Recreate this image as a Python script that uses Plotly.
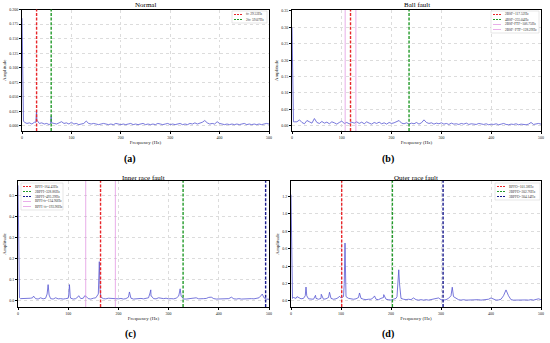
import plotly.graph_objects as go

W, H = 550, 343
FONT = "Liberation Serif"

# ---------------- data ----------------
freq_grid = list(range(0, 505, 5))

normal_base = [0.185, 0.006, 0.004, 0.005, 0.003, 0.006, 0.010, 0.004, 0.005, 0.003,
               0.004, 0.002, 0.005, 0.004, 0.003, 0.005, 0.007, 0.004, 0.005, 0.003,
               0.006, 0.003, 0.004, 0.002, 0.003, 0.004, 0.008, 0.004, 0.003, 0.004,
               0.003, 0.002, 0.003, 0.004, 0.003, 0.002, 0.003, 0.002, 0.004, 0.003,
               0.002, 0.003, 0.002, 0.003, 0.004, 0.002, 0.003, 0.002, 0.003, 0.004,
               0.002, 0.003, 0.002, 0.003, 0.002, 0.004, 0.003, 0.002, 0.003, 0.004,
               0.002, 0.003, 0.002, 0.003, 0.004, 0.002, 0.003, 0.002, 0.004, 0.003,
               0.005, 0.003, 0.004, 0.006, 0.009, 0.005, 0.003, 0.004, 0.003, 0.007,
               0.004, 0.003, 0.002, 0.003, 0.002, 0.003, 0.002, 0.003, 0.002, 0.003,
               0.004, 0.002, 0.003, 0.002, 0.003, 0.002, 0.003, 0.002, 0.003, 0.004,
               0.003]
normal_peak_f = [1, 2, 3, 28, 29.5, 30, 58, 59, 60]
normal_peak_a = [0.09, 0.02, 0.008, 0.006, 0.027, 0.010, 0.004, 0.016, 0.005]

ball_base = [0.300, 0.012, 0.012, 0.018, 0.010, 0.006, 0.016, 0.012, 0.008, 0.022,
             0.010, 0.007, 0.013, 0.008, 0.011, 0.006, 0.012, 0.009, 0.005, 0.010,
             0.014, 0.007, 0.010, 0.006, 0.011, 0.008, 0.012, 0.007, 0.011, 0.006,
             0.012, 0.008, 0.005, 0.010, 0.007, 0.011, 0.006, 0.009, 0.005, 0.010,
             0.007, 0.009, 0.013, 0.016, 0.008, 0.006, 0.009, 0.005, 0.008, 0.006,
             0.010, 0.005, 0.009, 0.018, 0.010, 0.007, 0.009, 0.005, 0.008, 0.006,
             0.009, 0.005, 0.007, 0.004, 0.008, 0.005, 0.006, 0.004, 0.007, 0.005,
             0.008, 0.004, 0.006, 0.005, 0.004, 0.007, 0.005, 0.004, 0.006, 0.003,
             0.005, 0.004, 0.006, 0.003, 0.005, 0.007, 0.004, 0.003, 0.005, 0.004,
             0.006, 0.003, 0.005, 0.004, 0.003, 0.005, 0.010, 0.004, 0.005, 0.007,
             0.005]
ball_peak_f = [1, 2, 3]
ball_peak_a = [0.12, 0.03, 0.012]

inner_base = [0.550, 0.008, 0.008, 0.007, 0.008, 0.010, 0.018, 0.008, 0.006, 0.012,
              0.007, 0.010, 0.010, 0.008, 0.006, 0.012, 0.007, 0.008, 0.006, 0.008,
              0.010, 0.010, 0.006, 0.008, 0.018, 0.008, 0.010, 0.020, 0.008, 0.006,
              0.010, 0.012, 0.030, 0.015, 0.008, 0.007, 0.010, 0.009, 0.006, 0.008,
              0.007, 0.009, 0.006, 0.008, 0.015, 0.010, 0.006, 0.008, 0.007, 0.009,
              0.007, 0.008, 0.012, 0.020, 0.008, 0.007, 0.012, 0.009, 0.008, 0.010,
              0.007, 0.008, 0.007, 0.010, 0.020, 0.015, 0.006, 0.006, 0.007, 0.008,
              0.010, 0.012, 0.007, 0.006, 0.008, 0.009, 0.014, 0.015, 0.008, 0.006,
              0.007, 0.008, 0.006, 0.009, 0.008, 0.015, 0.007, 0.006, 0.008, 0.006,
              0.007, 0.008, 0.006, 0.008, 0.007, 0.010, 0.012, 0.025, 0.012, 0.006,
              0.005]
inner_peak_f = [1, 2, 3, 29, 31, 58, 60, 62, 101, 102.5, 104, 121, 133,
                160.5, 162, 163.5, 222, 223.5, 263, 264.5, 266, 321, 323, 325, 486.5]
inner_peak_a = [0.25, 0.04, 0.012, 0.012, 0.020, 0.030, 0.075, 0.025, 0.025, 0.075, 0.020,
                0.022, 0.022, 0.060, 0.185, 0.050, 0.040, 0.020, 0.035, 0.050, 0.020,
                0.030, 0.055, 0.020, 0.030]

outer_base = [1.220, 0.040, 0.030, 0.040, 0.025, 0.030, 0.060, 0.025, 0.020, 0.020,
              0.030, 0.020, 0.030, 0.020, 0.025, 0.040, 0.030, 0.020, 0.025, 0.040,
              0.035, 0.050, 0.050, 0.030, 0.025, 0.020, 0.025, 0.040, 0.030, 0.020,
              0.015, 0.020, 0.020, 0.040, 0.020, 0.015, 0.030, 0.040, 0.020, 0.015,
              0.010, 0.020, 0.030, 0.100, 0.030, 0.020, 0.015, 0.020, 0.015, 0.035,
              0.015, 0.010, 0.015, 0.010, 0.015, 0.010, 0.015, 0.020, 0.030, 0.035,
              0.015, 0.010, 0.015, 0.030, 0.090, 0.120, 0.030, 0.015, 0.010, 0.015,
              0.010, 0.012, 0.010, 0.012, 0.010, 0.015, 0.010, 0.012, 0.015, 0.020,
              0.035, 0.020, 0.010, 0.012, 0.020, 0.060, 0.127, 0.060, 0.015, 0.010,
              0.012, 0.010, 0.015, 0.010, 0.012, 0.010, 0.015, 0.010, 0.020, 0.025,
              0.015]
outer_peak_f = [1, 2, 3, 12, 28.5, 30, 31.5, 49, 60.5, 77, 97, 106.5, 108, 109.5,
                137, 167, 185.5, 212, 214, 215, 215.5, 217, 219, 320, 322.5, 325]
outer_peak_a = [0.50, 0.08, 0.03, 0.05, 0.06, 0.16, 0.06, 0.065, 0.077, 0.10, 0.055,
                0.20, 0.665, 0.20, 0.092, 0.058, 0.073, 0.05, 0.20, 0.30, 0.358, 0.20,
                0.05, 0.06, 0.158, 0.05]

titles = ["Normal", "Ball fault", "Inner race fault", "Outer race fault"]
panel_tags = ["(a)", "(b)", "(c)", "(d)"]

x_ticks = [0, 100, 200, 300, 400, 500]
y_ranges = [[-0.009, 0.2], [-0.016, 0.353], [-0.032, 0.571], [-0.069, 1.377]]
y_ticks = [[0.0, 0.025, 0.05, 0.075, 0.1, 0.125, 0.15, 0.175, 0.2],
           [0.0, 0.05, 0.1, 0.15, 0.2, 0.25, 0.3, 0.35],
           [0.0, 0.1, 0.2, 0.3, 0.4, 0.5],
           [0.0, 0.2, 0.4, 0.6, 0.8, 1.0, 1.2]]
y_formats = [".3f", ".2f", ".1f", ".1f"]

# characteristic frequencies (vertical markers) and legend labels
normal_marks = [29.53, 59.07]
normal_labels = ["fr: 29.53Hz", "2fr: 59.07Hz"]
ball_marks = [117.52, 235.04, 106.75, 128.29]
ball_labels = ["2BSF=117.52Hz", "4BSF=235.04Hz", "2BSF-FTF=106.75Hz", "2BSF+FTF=128.29Hz"]
inner_marks = [164.43, 328.86, 493.29, 134.90, 193.96]
inner_labels = ["BPFI=164.43Hz", "2BPFI=328.86Hz", "3BPFI=493.29Hz",
                "BPFI-fr=134.90Hz", "BPFI+fr=193.96Hz"]
outer_marks = [101.38, 202.76, 304.14]
outer_labels = ["BPFO=101.38Hz", "2BPFO=202.76Hz", "3BPFO=304.14Hz"]

# ---------------- styling ----------------
DASH = "3px,1.6px"
RED = dict(color="#e8262a", dash=DASH, width=1.4)
GREEN = dict(color="#239a2a", dash=DASH, width=1.4)
NAVY = dict(color="#17188c", dash=DASH, width=1.4)
PINK = dict(color="#e08be0", dash="solid", width=0.7)

mark_styles = [[RED, GREEN], [RED, GREEN, PINK, PINK],
               [RED, GREEN, NAVY, PINK, PINK], [RED, GREEN, NAVY]]

# pixel boxes of plot areas: (left, right, top, bottom)
boxes = [(22, 269, 9.5, 131), (292, 541, 10, 131), (18, 269, 181, 307), (291, 541, 181, 307)]
# legend boxes: (left, top, width)
leg_boxes = [(232, 11, 35), (491, 11, 48), (21, 183, 42), (495, 183, 45)]
tag_pos = [(130, 159), (388, 159), (130, 334), (388, 334)]
title_y = [5, 5, 177.5, 177.5]


def px(x):
    return x / W


def py(y):
    return 1 - y / H


def merge(base, pf, pa):
    d = dict(zip(freq_grid, base))
    d.update(zip(pf, pa))
    ks = sorted(d)
    return ks, [d[k] for k in ks]


series = [merge(normal_base, normal_peak_f, normal_peak_a),
          merge(ball_base, ball_peak_f, ball_peak_a),
          merge(inner_base, inner_peak_f, inner_peak_a),
          merge(outer_base, outer_peak_f, outer_peak_a)]
marks = [normal_marks, ball_marks, inner_marks, outer_marks]
labels = [normal_labels, ball_labels, inner_labels, outer_labels]

fig = go.Figure()
shapes = []
annotations = []
layout_axes = {}

for i in range(4):
    n = "" if i == 0 else str(i + 1)
    fx, fy = series[i]
    fig.add_trace(go.Scatter(x=fx, y=fy, mode="lines", xaxis="x" + n, yaxis="y" + n,
                             line=dict(color="#5656d2", width=0.8), showlegend=False,
                             hoverinfo="skip"))
    l, r, t, b = boxes[i]
    common = dict(showline=True, linecolor="black", linewidth=0.8, mirror=True,
                  showgrid=True, gridcolor="#dcdcdc", griddash="dot", gridwidth=0.6,
                  ticks="outside", ticklen=2, tickwidth=0.6, tickcolor="black",
                  tickfont=dict(family=FONT, size=4, color="#222"), zeroline=False,
                  automargin=False)
    layout_axes["xaxis" + n] = dict(common, domain=[px(l), px(r)], anchor="y" + n,
                                    range=[0, 500], tickvals=x_ticks,
                                    title=dict(text="Frequency (Hz)", standoff=1,
                                               font=dict(family=FONT, size=5, color="#222")))
    layout_axes["yaxis" + n] = dict(common, domain=[py(b), py(t)], anchor="x" + n,
                                    range=y_ranges[i], tickvals=y_ticks[i],
                                    tickformat=y_formats[i],
                                    title=dict(text="Amplitude", standoff=2,
                                               font=dict(family=FONT, size=5, color="#222")))
    # vertical characteristic-frequency markers
    for f, st in zip(marks[i], mark_styles[i]):
        shapes.append(dict(type="line", xref="x" + n, yref="y" + n + " domain",
                           x0=f, x1=f, y0=0, y1=1, line=st, layer="above"))
    # title
    annotations.append(dict(text=titles[i], xref="paper", yref="paper",
                            x=px((l + r) / 2), y=py(title_y[i]), xanchor="center",
                            yanchor="middle", borderpad=0,
                            showarrow=False, font=dict(family=FONT, size=7, color="black")))
    # panel tag
    tx, ty = tag_pos[i]
    annotations.append(dict(text="<b>" + panel_tags[i] + "</b>", xref="paper", yref="paper",
                            x=px(tx), y=py(ty), xanchor="center", yanchor="middle",
                            showarrow=False, font=dict(family=FONT, size=10, color="black")))
    # custom legend
    lx, ly, lw = leg_boxes[i]
    row = 5.0
    nrow = len(labels[i])
    shapes.append(dict(type="rect", xref="paper", yref="paper",
                       x0=px(lx), x1=px(lx + lw), y0=py(ly + nrow * row + 2), y1=py(ly),
                       line=dict(color="#cfcfcf", width=0.5), fillcolor="white",
                       layer="above"))
    for k, (lab, st) in enumerate(zip(labels[i], mark_styles[i])):
        cy = ly + 1 + row * (k + 0.5)
        shapes.append(dict(type="line", xref="paper", yref="paper",
                           x0=px(lx + 2), x1=px(lx + 10), y0=py(cy), y1=py(cy),
                           line=dict(color=st["color"],
                                     dash="2px,1px" if st["dash"] != "solid" else "solid",
                                     width=min(st["width"], 1.0)), layer="above"))
        annotations.append(dict(text=lab, xref="paper", yref="paper",
                                x=px(lx + 12), y=py(cy), xanchor="left", yanchor="middle",
                                showarrow=False,
                                font=dict(family=FONT, size=3.5, color="#333")))

fig.update_layout(width=W, height=H, margin=dict(l=0, r=0, t=0, b=0),
                  paper_bgcolor="white", plot_bgcolor="white",
                  shapes=shapes, annotations=annotations, showlegend=False,
                  font=dict(family=FONT), **layout_axes)

fig.write_html("out.html", config={"displayModeBar": False},
               post_script="document.body.style.margin='0';document.body.style.overflow='hidden';")
